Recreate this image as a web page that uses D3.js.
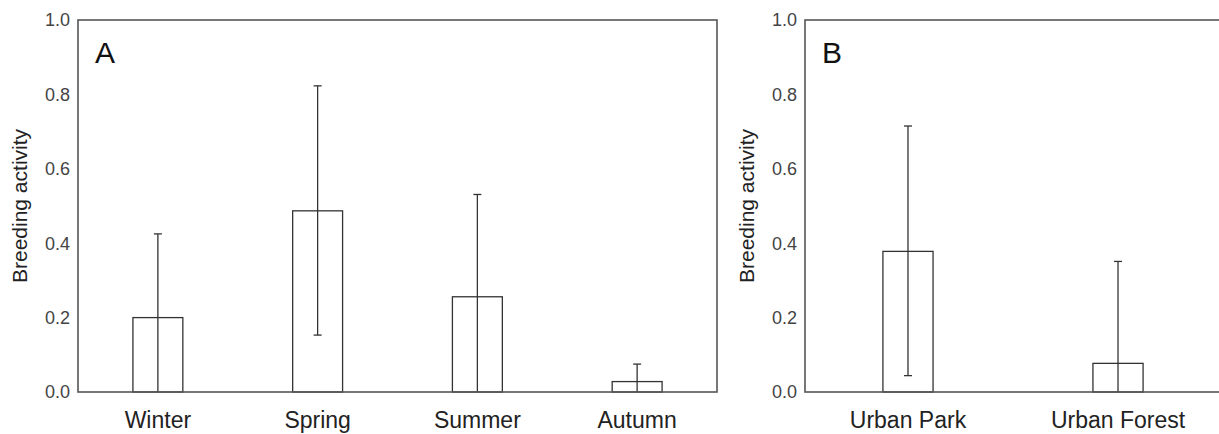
<!DOCTYPE html>
<meta charset="UTF-8">
<style>
	body { margin: 0; background: #fff; }
	text { font-family: "Liberation Sans", Arial, sans-serif; }
	.tick-label { font-size: 18px; fill: #444; }
	.cat-label { font-size: 23px; fill: #222; }
	.ytitle { font-size: 21px; fill: #222; }
	.panel-letter { font-size: 30px; fill: #111; }
	.frame { fill: none; stroke: #555; stroke-width: 1.6px; }
	.bar { fill: #fff; stroke: #333; stroke-width: 1.3px; }
	.err { stroke: #333; stroke-width: 1.3px; }
</style>
<body>
	<script src="https://d3js.org/d3.v7.min.js"></script>
	<script>
		// panel A - season
		var seasons = ["Winter", "Spring", "Summer", "Autumn"];
		var seasonMean = [0.20, 0.487, 0.256, 0.028];
		var seasonHigh = [0.425, 0.823, 0.531, 0.075];
		var seasonLow = [0, 0.153, 0, 0];

		// panel B - habitat
		var habitats = ["Urban Park", "Urban Forest"];
		var habitatMean = [0.378, 0.077];
		var habitatHigh = [0.715, 0.351];
		var habitatLow = [0.044, 0];

		var yTicks = [0, 0.2, 0.4, 0.6, 0.8, 1.0];

		var W = 1219, H = 434;
		var svg = d3.select("body").append("svg")
			.attr("width", W)
			.attr("height", H);

		var plotTop = 20, plotBottom = 392;

		function drawPanel(opts) {
			var g = svg.append("g");

			var x = d3.scaleBand()
				.domain(opts.cats)
				.range([opts.left, opts.right])
				.paddingInner(opts.padIn)
				.paddingOuter(opts.padOut);

			var y = d3.scaleLinear()
				.domain([0, 1])
				.range([plotBottom, plotTop]);

			var data = opts.cats.map((c, i) => ({
				cat: c, mean: opts.mean[i], hi: opts.high[i], lo: opts.low[i]
			}));

			// bars
			g.selectAll("rect.bar")
				.data(data)
				.enter().append("rect")
				.attr("class", "bar")
				.attr("x", d => x(d.cat))
				.attr("width", x.bandwidth())
				.attr("y", d => y(d.mean))
				.attr("height", d => y(0) - y(d.mean));

			// error bars
			var capW = 4;
			var eg = g.selectAll("g.errbar")
				.data(data)
				.enter().append("g")
				.attr("class", "errbar");
			eg.append("line")
				.attr("class", "err")
				.attr("x1", d => x(d.cat) + x.bandwidth() / 2)
				.attr("x2", d => x(d.cat) + x.bandwidth() / 2)
				.attr("y1", d => y(d.hi))
				.attr("y2", d => y(Math.max(0, d.lo)));
			eg.append("line")
				.attr("class", "err")
				.attr("x1", d => x(d.cat) + x.bandwidth() / 2 - capW)
				.attr("x2", d => x(d.cat) + x.bandwidth() / 2 + capW)
				.attr("y1", d => y(d.hi))
				.attr("y2", d => y(d.hi));
			eg.filter(d => d.lo > 0).append("line")
				.attr("class", "err")
				.attr("x1", d => x(d.cat) + x.bandwidth() / 2 - capW)
				.attr("x2", d => x(d.cat) + x.bandwidth() / 2 + capW)
				.attr("y1", d => y(d.lo))
				.attr("y2", d => y(d.lo));

			// frame
			g.append("rect")
				.attr("class", "frame")
				.attr("x", opts.left)
				.attr("y", plotTop)
				.attr("width", opts.right - opts.left)
				.attr("height", plotBottom - plotTop);

			// y tick labels (no tick marks)
			g.selectAll("text.tick-label")
				.data(yTicks)
				.enter().append("text")
				.attr("class", "tick-label")
				.attr("x", opts.left - 8)
				.attr("y", d => y(d))
				.attr("dy", "0.35em")
				.attr("text-anchor", "end")
				.text(d3.format(".1f"));

			// category labels
			g.selectAll("text.cat-label")
				.data(opts.cats)
				.enter().append("text")
				.attr("class", "cat-label")
				.attr("x", d => x(d) + x.bandwidth() / 2)
				.attr("y", 428)
				.attr("text-anchor", "middle")
				.text(d => d);

			// y title
			g.append("text")
				.attr("class", "ytitle")
				.attr("transform", "translate(" + (opts.left - 51) + "," + ((plotTop + plotBottom) / 2) + ") rotate(-90)")
				.attr("text-anchor", "middle")
				.text("Breeding activity");

			g.append("text")
				.attr("class", "panel-letter")
				.attr("x", opts.left + 17)
				.attr("y", 63)
				.text(opts.letter);
		}

		drawPanel({
			cats: seasons, mean: seasonMean, high: seasonHigh, low: seasonLow,
			left: 78, right: 717, padIn: 0.6875, padOut: 0.34375, letter: "A"
		});

		drawPanel({
			cats: habitats, mean: habitatMean, high: habitatHigh, low: habitatLow,
			left: 805, right: 1221, padIn: 0.7613, padOut: 0.371, letter: "B"
		});
	</script>
</body>
